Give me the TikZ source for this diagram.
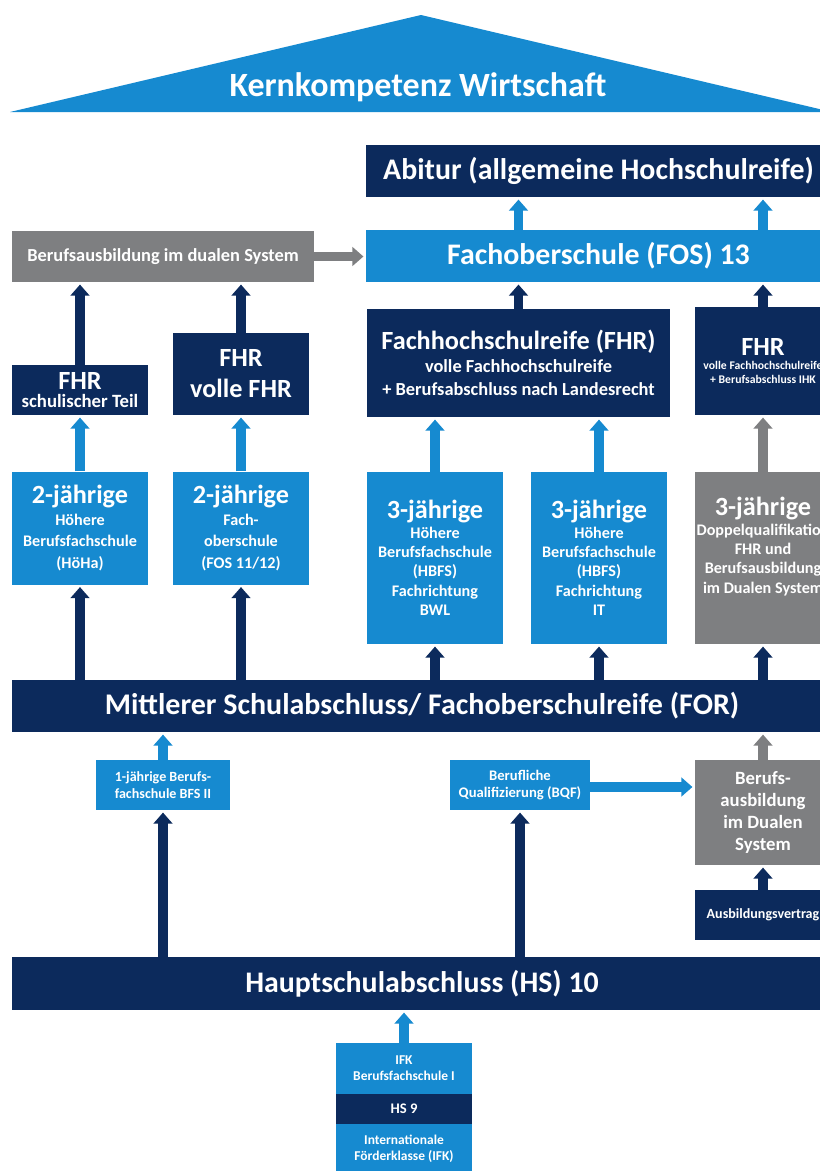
\documentclass[tikz,border=0pt]{standalone}
\usepackage{fontspec}
\setmainfont{Carlito}
\usetikzlibrary{arrows.meta}
\definecolor{SchoolNavy}{HTML}{0C2A5C}
\definecolor{SchoolBlue}{HTML}{168AD0}
\definecolor{SchoolGray}{HTML}{7E7F81}
\newcommand\fsz[2]{\fontsize{#1}{#2}\selectfont}
\tikzset{
  BX/.style={rectangle,inner sep=0pt,align=center,text=white,
             font=\bfseries},
  bN/.style={BX,fill=SchoolNavy},
  bL/.style={BX,fill=SchoolBlue},
  bG/.style={BX,fill=SchoolGray},
  col/.style={minimum width=136*0.03cm},
  up/.style={line width=8pt,-{Triangle[width=16pt,length=9.5pt]},shorten >=2pt},
  upN/.style={up,draw=SchoolNavy},
  upL/.style={up,draw=SchoolBlue},
  upG/.style={up,draw=SchoolGray}
}

\begin{document}
\begin{tikzpicture}[x=0.03cm,y=-0.03cm]
  \useasboundingbox (0,0) rectangle (820,1171);
  \clip (0,0) rectangle (820,1171);
  \fill[white] (0,0) rectangle (820,1171);

  % roof
  \fill[SchoolBlue] (10,112) -- (421,15) -- (832,112) -- cycle;
  \node[BX,font=\bfseries\fsz{29}{33}] (roof) at (418,87) {Kernkompetenz Wirtschaft};

  % top row
  \node[bN,minimum width=465*0.03cm,minimum height=52*0.03cm,font=\bfseries\fsz{25.5}{29}] (abitur) at (598.5,171) {Abitur (allgemeine Hochschulreife)};
  \node[bL,minimum width=465*0.03cm,minimum height=52*0.03cm,font=\bfseries\fsz{25.5}{29}] (fos) at (598.5,256) {Fachoberschule (FOS) 13};
  \node[bG,minimum width=302*0.03cm,minimum height=51*0.03cm,font=\bfseries\fsz{15.7}{18}] (dual) at (163,256.5) {Berufsausbildung im dualen System};

  % FHR row
  \node[bN,minimum width=303*0.03cm,minimum height=108*0.03cm,font=\bfseries\fsz{15.7}{19.5}] (fhrL) at (518.5,363)
    {{\fsz{22.4}{26}Fachhochschulreife (FHR)}\\volle Fachhochschulreife\\+ Berufsabschluss nach Landesrecht};
  \node[bN,col,minimum height=108*0.03cm,font=\bfseries\fsz{10}{12}] (fhrR) at (763,361)
    {{\fsz{22.4}{26}FHR}\\volle Fachhochschulreife\\+ Berufsabschluss IHK};
  \node[bN,col,minimum height=50*0.03cm,font=\bfseries\fsz{16}{16}] (fhrS) at (80,390)
    {{\fsz{22.4}{20}FHR}\\schulischer Teil};
  \node[bN,col,minimum height=82*0.03cm,font=\bfseries\fsz{22.4}{26.5}] (fhrV) at (241,374)
    {FHR\\volle FHR};

  % school types
  \node[bL,col,minimum height=113*0.03cm,font=\bfseries\fsz{13.8}{18.5}] (zwA) at (80,528)
    {{\fsz{22.4}{24}2-jährige}\\Höhere\\Berufsfachschule\\(HöHa)};
  \node[bL,col,minimum height=113*0.03cm,font=\bfseries\fsz{13.8}{18.5}] (zwB) at (241,528)
    {{\fsz{22.4}{24}2-jährige}\\Fach-\\oberschule\\(FOS 11/12)};
  \node[bL,col,minimum height=172*0.03cm,font=\bfseries\fsz{13.8}{16.5}] (drA) at (435,558)
    {{\fsz{22.4}{24}3-jährige}\\Höhere\\Berufsfachschule\\(HBFS)\\Fachrichtung\\BWL};
  \node[bL,col,minimum height=172*0.03cm,font=\bfseries\fsz{13.8}{16.5}] (drB) at (599,558)
    {{\fsz{22.4}{24}3-jährige}\\Höhere\\Berufsfachschule\\(HBFS)\\Fachrichtung\\IT};
  \node[bG,col,minimum height=172*0.03cm,font=\bfseries\fsz{13.8}{16.5}] (drC) at (763,558)
    {{\fsz{22.4}{24}3-jährige}\\Doppelqualifikation\\FHR und\\Berufsausbildung\\im Dualen System\\\strut};

  % FOR
  \node[bN,minimum width=820*0.03cm,minimum height=52*0.03cm,font=\bfseries\fsz{25.6}{29}] (for) at (422,706) {Mittlerer Schulabschluss/ Fachoberschulreife (FOR)};

  % lower row
  \node[bL,minimum width=134*0.03cm,minimum height=50*0.03cm,font=\bfseries\fsz{12}{15}] (einj) at (163,785)
    {1-jährige Berufs-\\fachschule BFS II};
  \node[bL,minimum width=140*0.03cm,minimum height=50*0.03cm,font=\bfseries\fsz{12.5}{14.5}] (bqf) at (520,785)
    {Berufliche\\Qualifizierung (BQF)};
  \node[bG,col,minimum height=105*0.03cm,font=\bfseries\fsz{16}{19}] (bdual) at (763,812.5)
    {Berufs-\\ausbildung\\im Dualen\\System};
  \node[bN,col,minimum height=50*0.03cm,font=\bfseries\fsz{12}{14}] (avt) at (763,915) {Ausbildungsvertrag};

  % HS
  \node[bN,minimum width=820*0.03cm,minimum height=53*0.03cm,font=\bfseries\fsz{25.5}{29}] (hs) at (422,983.5) {Hauptschulabschluss (HS) 10};
  \node[bL,col,minimum height=51*0.03cm,font=\bfseries\fsz{11.5}{13.5}] (ifkA) at (404,1068.5)
    {IFK\\Berufsfachschule I};
  \node[bN,col,minimum height=30*0.03cm,font=\bfseries\fsz{12.5}{14}] (hsn) at (404,1109) {HS 9};
  \node[bL,col,minimum height=50*0.03cm,font=\bfseries\fsz{11.5}{13.5}] (ifkB) at (404,1149)
    {Internationale\\Förderklasse (IFK)};

  % arrows
  \draw[upL] (fos.north -| fhrL) -- (abitur.south -| fhrL);
  \draw[upL] (fos.north -| fhrR) -- (abitur.south -| fhrR);
  \draw[upG] (dual.east) -- (dual.east -| fos.west);
  \draw[upN] (fhrL.north) -- (fhrL.north |- fos.south);
  \draw[upN] (fhrR.north) -- (fhrR.north |- fos.south);
  \draw[upN] (fhrS.north) -- (fhrS.north |- dual.south);
  \draw[upN] (fhrV.north) -- (fhrV.north |- dual.south);
  \draw[upL] (zwA.north) -- (fhrS.south);
  \draw[upL] (zwB.north) -- (fhrV.south);
  \draw[upL] (drA.north) -- (drA.north |- fhrL.south);
  \draw[upL] (drB.north) -- (drB.north |- fhrL.south);
  \draw[upG] (drC.north) -- (fhrR.south);
  \foreach \n in {zwA,zwB,drA,drB,drC}
    \draw[upN] (for.north -| \n.south) -- (\n.south);
  \draw[upL] (einj.north) -- (einj.north |- for.south);
  \draw[upG] (bdual.north) -- (bdual.north |- for.south);
  \draw[upL] ([yshift=-2*0.03cm]bqf.east) -- ([yshift=-2*0.03cm]bqf.east -| bdual.west);
  \draw[upN] (avt.north) -- (bdual.south);
  \draw[upN] (hs.north -| einj.south) -- (einj.south);
  \draw[upN] (hs.north -| bqf.south) -- (bqf.south);
  \draw[upL] (ifkA.north) -- (ifkA.north |- hs.south);
\end{tikzpicture}
\end{document}
